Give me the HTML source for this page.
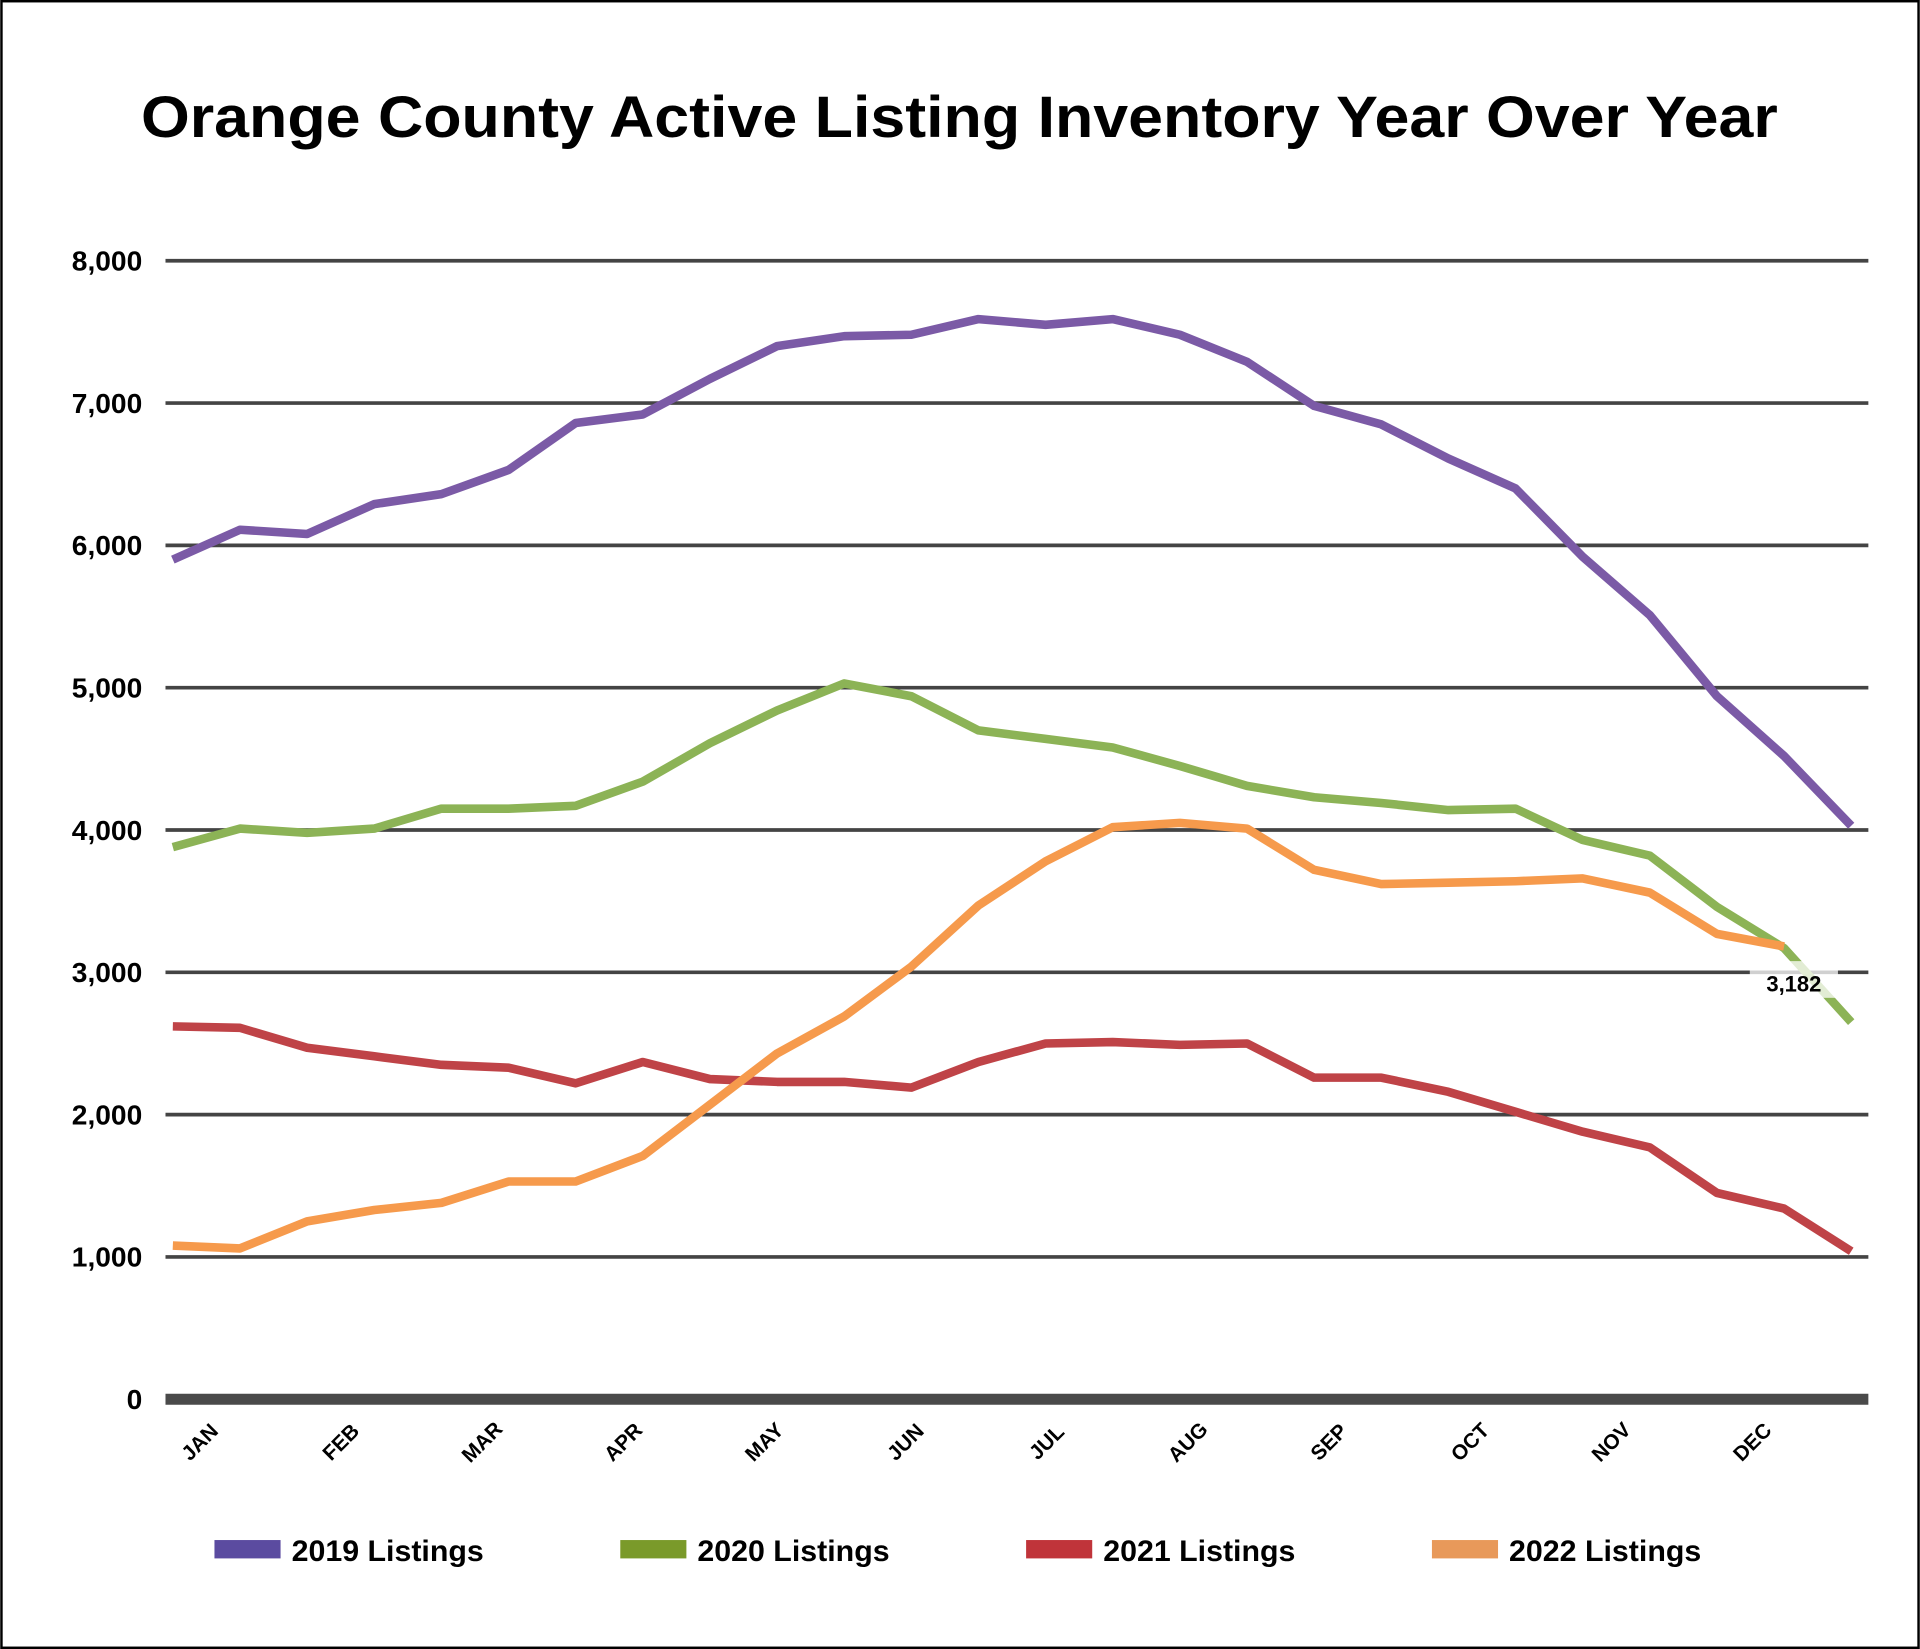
<!DOCTYPE html>
<html><head><meta charset="utf-8"><style>
html,body{margin:0;padding:0;background:#fff}
svg{display:block}
text{font-family:"Liberation Sans","DejaVu Sans",sans-serif;font-weight:bold;fill:#000}
</style></head><body>
<svg id="chart" width="1920" height="1649" viewBox="0 0 1568 1347" xmlns="http://www.w3.org/2000/svg">
<rect x="1" y="1" width="1566" height="1345" fill="#fff" stroke="#000" stroke-width="2"/>
<text x="115" y="112" textLength="1337" lengthAdjust="spacingAndGlyphs" font-size="48">Orange County Active Listing Inventory Year Over Year</text>
<g id="grid"></g><g id="series"></g><g id="labels"></g><g id="legend"></g>
</svg>
<script>
const yTicks=[0,1000,2000,3000,4000,5000,6000,7000,8000];
const months=["JAN","FEB","MAR","APR","MAY","JUN","JUL","AUG","SEP","OCT","NOV","DEC"];
const s2019=[5900,6110,6080,6290,6360,6530,6860,6920,7170,7400,7470,7480,7590,7550,7590,7480,7290,6980,6850,6610,6400,5920,5510,4940,4520,4030];
const s2020=[3880,4010,3980,4010,4150,4150,4170,4340,4610,4840,5030,4940,4700,4640,4580,4450,4310,4230,4190,4140,4150,3930,3820,3460,3170,2650];
const s2021=[2620,2610,2470,2410,2350,2330,2220,2370,2250,2230,2230,2190,2370,2500,2510,2490,2500,2260,2260,2160,2020,1880,1770,1450,1340,1040];
const s2022=[1080,1060,1250,1330,1380,1530,1530,1710,2070,2430,2690,3040,3470,3780,4020,4050,4010,3720,3620,3630,3640,3660,3560,3270,3182];
const lastLabel="3,182";
const NS="http://www.w3.org/2000/svg";
const y=v=>1143-v*(930/8000);
const x=i=>141+i*(1371/25);
function mk(t,a,p){const e=document.createElementNS(NS,t);for(const k in a)e.setAttribute(k,a[k]);p.appendChild(e);return e;}
const grid=document.getElementById('grid');
yTicks.forEach(v=>{
 const l=mk('line',{x1:135,x2:1526,y1:y(v),y2:y(v),stroke:v===0?'#4a4a4a':'#444','stroke-width':v===0?9:3},grid);
 
 
 const t=mk('text',{x:116,y:y(v)+8,'text-anchor':'end','font-size':23},grid);
 t.textContent=v.toLocaleString('en-US');
 
 
});
months.forEach((m,i)=>{
 const mx=167+i*115.3, my=1182;
 const t=mk('text',{x:mx,y:my,'text-anchor':'middle','font-size':17,transform:`rotate(-45 ${mx} ${my})`},grid);
 t.textContent=m;
 
 
});
const series=[["2019",s2019,"#7b5aa6"],["2020",s2020,"#8cb356"],["2021",s2021,"#bf4347"],["2022",s2022,"#f69a4c"]];
const sg=document.getElementById('series');
series.forEach(([n,d,c])=>{
 const p=mk('polyline',{points:d.map((v,i)=>x(i)+','+y(v)).join(' '),fill:'none',stroke:c,'stroke-width':7,'stroke-linejoin':'round'},sg);
 
 
});
const lg=document.getElementById('labels');
const li=s2022.length-1;
const bx=mk('rect',{x:x(li)-28,y:y(s2022[li])+12,width:72,height:30,fill:'#fff','fill-opacity':0.75},lg);


const lt=mk('text',{x:x(li)+8,y:y(s2022[li])+37,'text-anchor':'middle','font-size':18},lg);
lt.textContent=lastLabel;


const leg=document.getElementById('legend');
const legColors=["#5b4ba0","#7a9a2a","#c0343a","#e8995a"];
series.forEach(([n],i)=>{
 const lx=175+i*331.5;
 const r=mk('rect',{x:lx,y:1258,width:54,height:15,fill:legColors[i]},leg);
 
 
 const t=mk('text',{x:lx+63,y:1275,'font-size':24,textLength:157,lengthAdjust:'spacingAndGlyphs'},leg);
 t.textContent=n+" Listings";
 
 
});
</script>
</body></html>
